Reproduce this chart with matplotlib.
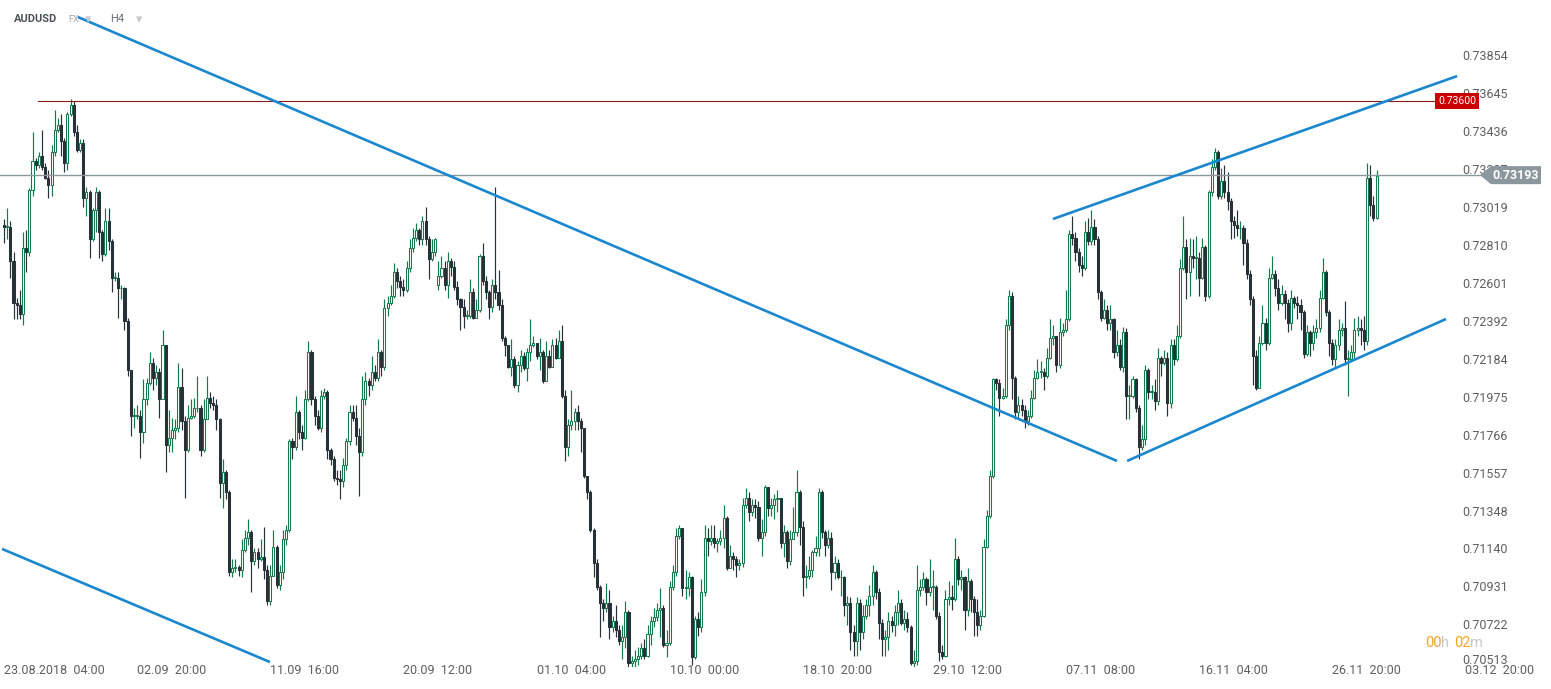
import matplotlib
matplotlib.use('Agg')
import matplotlib.pyplot as plt
import matplotlib.transforms as mtransforms
from matplotlib.patches import Polygon
import numpy as np

plt.rcParams['font.family'] = ['Roboto', 'DejaVu Sans']

W, H, DPI = 1551, 689, 100

# ---------------- data (AUDUSD H4, prices in pips: value / 10000) ----------------
first_open = 7292
closes = [
    7291, 7291, 7272, 7249, 7248, 7243, 7279, 7277, 7311, 7327,
    7325, 7330, 7324, 7318, 7314, 7332, 7344, 7347, 7338, 7326,
    7353, 7358, 7343, 7333, 7337, 7307, 7310, 7284, 7300, 7310,
    7288, 7276, 7294, 7283, 7263, 7263, 7257, 7257, 7239, 7212,
    7187, 7187, 7187, 7178, 7196, 7205, 7216, 7208, 7211, 7196,
    7226, 7171, 7175, 7179, 7180, 7203, 7184, 7168, 7186, 7187,
    7191, 7191, 7168, 7185, 7197, 7194, 7193, 7185, 7150, 7156,
    7145, 7101, 7103, 7104, 7102, 7113, 7120, 7123, 7107, 7112,
    7108, 7109, 7102, 7085, 7099, 7115, 7094, 7101, 7119, 7124,
    7173, 7170, 7189, 7178, 7175, 7196, 7222, 7196, 7187, 7180,
    7198, 7200, 7168, 7163, 7153, 7152, 7151, 7160, 7173, 7189,
    7186, 7176, 7167, 7196, 7206, 7204, 7211, 7208, 7222, 7214,
    7246, 7249, 7253, 7266, 7261, 7258, 7256, 7268, 7279, 7285,
    7289, 7284, 7294, 7284, 7273, 7277, 7284, 7264, 7268, 7259,
    7272, 7269, 7258, 7251, 7247, 7242, 7242, 7255, 7241, 7245,
    7275, 7261, 7255, 7247, 7259, 7255, 7248, 7230, 7226, 7214,
    7218, 7204, 7215, 7220, 7213, 7222, 7226, 7227, 7220, 7222,
    7206, 7220, 7214, 7226, 7219, 7228, 7198, 7170, 7182, 7184,
    7189, 7184, 7180, 7154, 7145, 7124, 7106, 7093, 7084, 7081,
    7084, 7071, 7074, 7069, 7063, 7065, 7079, 7051, 7052, 7053,
    7055, 7059, 7055, 7067, 7074, 7076, 7080, 7081, 7061, 7062,
    7093, 7101, 7121, 7125, 7092, 7092, 7098, 7054, 7075, 7071,
    7090, 7120, 7118, 7120, 7117, 7118, 7120, 7131, 7103, 7110,
    7108, 7105, 7106, 7138, 7142, 7134, 7138, 7137, 7120, 7123,
    7148, 7136, 7138, 7141, 7142, 7117, 7123, 7107, 7119, 7123,
    7145, 7126, 7098, 7099, 7102, 7112, 7114, 7145, 7123, 7116,
    7120, 7101, 7106, 7098, 7098, 7083, 7084, 7068, 7063, 7084,
    7068, 7077, 7083, 7088, 7101, 7090, 7073, 7064, 7065, 7074,
    7072, 7079, 7084, 7073, 7075, 7071, 7051, 7052, 7091, 7093,
    7097, 7090, 7093, 7093, 7077, 7057, 7055, 7086, 7087, 7086,
    7108, 7097, 7098, 7080, 7096, 7086, 7079, 7072, 7077, 7115,
    7132, 7154, 7207, 7205, 7197, 7198, 7237, 7253, 7208, 7189,
    7193, 7190, 7184, 7187, 7197, 7208, 7211, 7211, 7209, 7219,
    7230, 7231, 7215, 7233, 7234, 7240, 7287, 7285, 7277, 7270,
    7268, 7288, 7283, 7291, 7284, 7255, 7241, 7245, 7238, 7240,
    7222, 7226, 7214, 7233, 7198, 7198, 7207, 7191, 7170, 7174,
    7212, 7200, 7200, 7195, 7219, 7216, 7219, 7194, 7226, 7218,
    7231, 7268, 7280, 7266, 7275, 7274, 7274, 7263, 7280, 7253,
    7310, 7324, 7332, 7308, 7316, 7310, 7305, 7294, 7292, 7290,
    7290, 7282, 7265, 7251, 7220, 7202, 7227, 7238, 7227, 7263,
    7265, 7257, 7249, 7254, 7249, 7238, 7252, 7249, 7248, 7244,
    7221, 7233, 7227, 7233, 7235, 7252, 7266, 7244, 7227, 7218,
    7226, 7234, 7235, 7218, 7218, 7222, 7234, 7235, 7234, 7228,
    7318, 7303, 7296, 7319,
]
highs = [
    7295, 7301, 7294, 7277, 7252, 7256, 7288, 7289, 7312, 7343,
    7329, 7332, 7344, 7326, 7322, 7336, 7355, 7351, 7353, 7340,
    7354, 7361, 7360, 7347, 7339, 7339, 7313, 7311, 7301, 7313,
    7311, 7289, 7301, 7301, 7284, 7266, 7266, 7259, 7258, 7241,
    7212, 7191, 7193, 7190, 7207, 7208, 7222, 7219, 7215, 7213,
    7234, 7226, 7190, 7186, 7185, 7216, 7213, 7187, 7193, 7196,
    7197, 7209, 7193, 7196, 7209, 7200, 7198, 7196, 7186, 7163,
    7157, 7146, 7108, 7108, 7105, 7119, 7124, 7130, 7124, 7114,
    7114, 7119, 7126, 7105, 7105, 7124, 7116, 7105, 7124, 7127,
    7174, 7175, 7198, 7190, 7182, 7201, 7228, 7223, 7198, 7190,
    7201, 7202, 7201, 7169, 7165, 7157, 7157, 7164, 7175, 7193,
    7193, 7193, 7180, 7209, 7211, 7208, 7220, 7215, 7229, 7223,
    7251, 7253, 7259, 7271, 7268, 7264, 7262, 7272, 7284, 7290,
    7293, 7290, 7297, 7302, 7286, 7284, 7285, 7272, 7275, 7272,
    7277, 7274, 7272, 7261, 7252, 7251, 7245, 7262, 7257, 7251,
    7276, 7282, 7264, 7256, 7262, 7313, 7267, 7251, 7231, 7226,
    7229, 7220, 7217, 7223, 7222, 7224, 7240, 7231, 7226, 7230,
    7223, 7228, 7223, 7229, 7230, 7234, 7237, 7201, 7185, 7201,
    7191, 7193, 7186, 7180, 7154, 7146, 7125, 7108, 7094, 7086,
    7095, 7091, 7077, 7083, 7072, 7072, 7085, 7080, 7055, 7058,
    7060, 7062, 7064, 7072, 7077, 7081, 7084, 7092, 7083, 7069,
    7096, 7105, 7125, 7127, 7125, 7102, 7101, 7099, 7077, 7079,
    7097, 7127, 7125, 7127, 7127, 7120, 7124, 7138, 7132, 7116,
    7112, 7110, 7108, 7142, 7147, 7145, 7141, 7141, 7140, 7130,
    7149, 7148, 7142, 7144, 7146, 7142, 7127, 7124, 7124, 7137,
    7157, 7146, 7129, 7105, 7110, 7113, 7121, 7147, 7146, 7124,
    7124, 7123, 7110, 7108, 7102, 7099, 7088, 7087, 7072, 7087,
    7086, 7083, 7086, 7094, 7105, 7102, 7092, 7075, 7069, 7079,
    7077, 7083, 7091, 7086, 7080, 7079, 7072, 7058, 7105, 7097,
    7101, 7098, 7108, 7102, 7094, 7079, 7061, 7091, 7096, 7094,
    7120, 7110, 7102, 7099, 7103, 7097, 7088, 7086, 7080, 7119,
    7135, 7157, 7208, 7208, 7207, 7202, 7240, 7256, 7255, 7209,
    7198, 7196, 7193, 7190, 7201, 7212, 7218, 7217, 7213, 7224,
    7240, 7237, 7231, 7241, 7238, 7256, 7289, 7297, 7288, 7279,
    7275, 7294, 7296, 7300, 7295, 7286, 7256, 7251, 7248, 7248,
    7241, 7234, 7229, 7236, 7235, 7204, 7209, 7208, 7193, 7182,
    7215, 7213, 7204, 7207, 7224, 7220, 7223, 7222, 7229, 7229,
    7237, 7273, 7297, 7284, 7285, 7284, 7286, 7277, 7285, 7281,
    7311, 7328, 7334, 7333, 7323, 7325, 7321, 7307, 7297, 7300,
    7294, 7292, 7284, 7267, 7253, 7223, 7231, 7248, 7241, 7268,
    7275, 7267, 7262, 7259, 7256, 7251, 7256, 7253, 7253, 7251,
    7245, 7237, 7234, 7237, 7240, 7256, 7274, 7267, 7245, 7229,
    7229, 7240, 7238, 7250, 7223, 7226, 7241, 7242, 7240, 7242,
    7326, 7325, 7308, 7322,
]
lows = [
    7282, 7284, 7263, 7240, 7240, 7240, 7237, 7266, 7275, 7308,
    7322, 7323, 7322, 7317, 7307, 7308, 7330, 7343, 7330, 7321,
    7322, 7352, 7341, 7332, 7332, 7302, 7297, 7274, 7283, 7288,
    7274, 7272, 7275, 7278, 7255, 7261, 7241, 7251, 7234, 7209,
    7176, 7180, 7185, 7164, 7172, 7193, 7204, 7201, 7204, 7186,
    7196, 7156, 7167, 7167, 7174, 7178, 7179, 7142, 7167, 7185,
    7186, 7189, 7165, 7167, 7185, 7191, 7190, 7179, 7142, 7136,
    7141, 7099, 7098, 7101, 7099, 7098, 7112, 7116, 7090, 7105,
    7103, 7107, 7097, 7083, 7083, 7099, 7092, 7091, 7097, 7116,
    7123, 7163, 7168, 7174, 7168, 7174, 7195, 7193, 7182, 7179,
    7178, 7196, 7163, 7160, 7151, 7149, 7141, 7148, 7157, 7171,
    7184, 7171, 7143, 7165, 7193, 7198, 7201, 7206, 7206, 7209,
    7212, 7242, 7248, 7252, 7257, 7253, 7253, 7255, 7266, 7277,
    7283, 7281, 7281, 7281, 7262, 7272, 7275, 7256, 7263, 7256,
    7252, 7264, 7256, 7248, 7234, 7235, 7240, 7241, 7240, 7244,
    7244, 7259, 7251, 7240, 7244, 7251, 7245, 7228, 7220, 7213,
    7209, 7202, 7200, 7211, 7212, 7206, 7217, 7225, 7218, 7212,
    7205, 7208, 7213, 7215, 7218, 7223, 7197, 7162, 7165, 7179,
    7179, 7179, 7167, 7153, 7141, 7123, 7098, 7091, 7065, 7074,
    7079, 7064, 7068, 7065, 7061, 7053, 7059, 7049, 7049, 7049,
    7050, 7053, 7053, 7054, 7061, 7071, 7074, 7065, 7060, 7054,
    7061, 7091, 7099, 7119, 7088, 7086, 7088, 7050, 7053, 7066,
    7068, 7088, 7110, 7116, 7114, 7112, 7116, 7114, 7102, 7103,
    7102, 7098, 7102, 7104, 7136, 7129, 7132, 7131, 7118, 7110,
    7121, 7132, 7132, 7130, 7134, 7114, 7109, 7103, 7105, 7119,
    7121, 7116, 7088, 7092, 7097, 7098, 7110, 7110, 7120, 7110,
    7114, 7091, 7097, 7097, 7088, 7077, 7072, 7058, 7055, 7055,
    7058, 7064, 7075, 7077, 7083, 7086, 7064, 7055, 7055, 7058,
    7068, 7066, 7072, 7072, 7069, 7068, 7050, 7049, 7050, 7088,
    7091, 7083, 7088, 7080, 7075, 7052, 7053, 7054, 7083, 7080,
    7085, 7094, 7091, 7069, 7077, 7079, 7066, 7066, 7069, 7076,
    7114, 7131, 7153, 7201, 7187, 7196, 7197, 7234, 7196, 7185,
    7186, 7187, 7180, 7182, 7186, 7196, 7207, 7208, 7201, 7208,
    7218, 7226, 7211, 7213, 7231, 7233, 7239, 7281, 7272, 7266,
    7264, 7267, 7281, 7281, 7281, 7251, 7239, 7240, 7234, 7234,
    7219, 7220, 7212, 7211, 7185, 7185, 7197, 7189, 7163, 7168,
    7171, 7196, 7196, 7190, 7193, 7209, 7215, 7187, 7191, 7215,
    7217, 7230, 7267, 7251, 7253, 7268, 7262, 7253, 7262, 7250,
    7252, 7308, 7322, 7306, 7306, 7307, 7300, 7284, 7285, 7286,
    7284, 7270, 7262, 7248, 7204, 7201, 7204, 7226, 7223, 7226,
    7262, 7253, 7245, 7248, 7240, 7233, 7234, 7246, 7240, 7234,
    7219, 7220, 7220, 7223, 7230, 7233, 7251, 7242, 7220, 7215,
    7213, 7223, 7231, 7215, 7198, 7217, 7219, 7231, 7226, 7223,
    7226, 7297, 7294, 7295,
]
gap_opens = {137: 7259}          # weekend gap (bar index: open)

y_ticks = [0.73854, 0.73645, 0.73436, 0.73227, 0.73019, 0.72810, 0.72601,
           0.72392, 0.72184, 0.71975, 0.71766, 0.71557, 0.71348, 0.71140,
           0.70931, 0.70722, 0.70513]
x_tick_bars = [0, 42, 84, 126, 168, 210, 252, 293, 335, 377, 419, 461]
x_tick_labels = ['23.08.2018  04:00', '02.09  20:00', '11.09  16:00', '20.09  12:00',
                 '01.10  04:00', '10.10  00:00', '18.10  20:00', '29.10  12:00',
                 '07.11  08:00', '16.11  04:00', '26.11  20:00', '03.12  20:00']

resistance_level = 0.73600
last_price = 0.73193
# drawn trend lines: (bar index, price) pairs
trend_main_down = [(23.3, 0.74063), (351.1, 0.71621)]
trend_low_down = [(-0.6, 0.71137), (83.9, 0.70515)]
channel_upper = [(330.9, 0.72952), (458.4, 0.73738)]
channel_lower = [(354.3, 0.71621), (454.9, 0.72402)]

# ---------------- build candles ----------------
n = min(len(closes), len(highs), len(lows))
c = np.array(closes[:n], float) / 1e4
o = np.r_[first_open, closes[:n - 1]].astype(float) / 1e4
for k, v in gap_opens.items():
    o[k] = v / 1e4
hi = np.maximum(np.array(highs[:n], float) / 1e4, np.maximum(o, c))
lo = np.minimum(np.array(lows[:n], float) / 1e4, np.minimum(o, c))
xs = np.arange(n)
up = c >= o

GREEN = '#137a4b'
DARK = '#263238'
BLUE = '#1a87cf'

fig = plt.figure(figsize=(W / DPI, H / DPI), dpi=DPI)
fig.patch.set_facecolor('white')
AX_RIGHT_PX = 1450
ax = fig.add_axes([0, 22 / H, AX_RIGHT_PX / W, 667 / H])
ax.set_facecolor('white')

PX0, STEP = 4.0, 3.17
ax.set_xlim(-PX0 / STEP, (AX_RIGHT_PX - PX0) / STEP)
ax.set_ylim(0.704877, 0.741565)

wcol = [GREEN if u else DARK for u in up]
ax.vlines(xs, lo, hi, colors=wcol, linewidth=0.85, zorder=2)
bottom = np.minimum(o, c)
height = np.maximum(np.abs(c - o), 0.00005)
face = ['white' if u else DARK for u in up]
ax.bar(xs, height, width=0.66, bottom=bottom, color=face, edgecolor=wcol,
       linewidth=0.75, zorder=3)

# horizontal levels
ax.plot([10.7, 451.4], [resistance_level] * 2, color='#8c1a1a', lw=0.8, zorder=4,
        clip_on=False)
ax.plot([-1.3, 465.6], [last_price] * 2, color='#8a979c', lw=1.0, zorder=4,
        clip_on=False)

# trend lines
for seg in (trend_main_down, trend_low_down, channel_upper, channel_lower):
    (x0, y0), (x1, y1) = seg
    ax.plot([x0, x1], [y0, y1], color=BLUE, lw=1.9, zorder=5, clip_on=False,
            solid_capstyle='butt')

# axes styling
for s in ax.spines.values():
    s.set_visible(False)
ax.yaxis.tick_right()
ax.set_yticks(y_ticks)
ax.set_yticklabels([f'{t:.5f}' for t in y_ticks])
ax.tick_params(axis='y', length=0, pad=8.6, labelsize=9, labelcolor='#5f5f5f')
ax.set_xticks([])
# the lowest price label sits slightly higher, as in the reference
last_lab = ax.get_yticklabels()[-1]
last_lab.set_transform(last_lab.get_transform() +
                       mtransforms.ScaledTranslation(0, 3 / DPI, fig.dpi_scale_trans))

blend = mtransforms.blended_transform_factory(ax.transData, ax.transAxes)
for xb, lab in zip(x_tick_bars, x_tick_labels):
    ax.text(xb, -3 / 667, lab, transform=blend, ha='left', va='center',
            fontsize=9, color='#5f5f5f', clip_on=False)

# price tags on right
bl2 = mtransforms.blended_transform_factory(ax.transAxes, ax.transData)
ax.text(1438 / AX_RIGHT_PX, resistance_level, '0.73600', transform=bl2,
        ha='left', va='center', fontsize=7.6, color='white', zorder=7,
        bbox=dict(boxstyle='square,pad=0.3', fc='#cc0000', ec='none'), clip_on=False)

hh = 9 / 18180
tip, b0, b1 = 1480 / AX_RIGHT_PX, 1491 / AX_RIGHT_PX, 1541 / AX_RIGHT_PX
tag = Polygon([(tip, last_price), (b0, last_price + hh), (b1, last_price + hh),
               (b1, last_price - hh), (b0, last_price - hh)], closed=True,
              transform=bl2, fc='#8a979c', ec='none', zorder=8, clip_on=False)
ax.add_patch(tag)
ax.text(1516 / AX_RIGHT_PX, last_price, f'{last_price:.5f}', transform=bl2,
        ha='center', va='center', fontsize=9, color='white', fontweight='bold',
        zorder=9, clip_on=False)

# header
fig.text(14 / W, 1 - 19 / H, 'AUDUSD', fontsize=8, fontweight='bold', color='#4a5358',
         ha='left', va='center')
fig.text(68 / W, 1 - 19 / H, 'FX', fontsize=6.5, color='#a0a8ac', ha='left', va='center')
fig.text(85 / W, 1 - 20 / H, '\u25BE', fontsize=9, color='#c4c9cc', ha='left', va='center')
fig.text(110 / W, 1 - 19 / H, 'H4', fontsize=8, color='#6b7478', ha='left', va='center')
fig.text(136 / W, 1 - 20 / H, '\u25BE', fontsize=9, color='#c4c9cc', ha='left', va='center')

# countdown
ORANGE = '#f5a623'
for xp, s, col in [(1425, '00', ORANGE), (1441, 'h', '#c9c9c9'),
                   (1454, '02', ORANGE), (1470, 'm', '#c9c9c9')]:
    fig.text(xp / W, 1 - 643 / H, s, fontsize=10.5, color=col, ha='left', va='center')

fig.savefig('out.png', dpi=DPI, facecolor='white')
